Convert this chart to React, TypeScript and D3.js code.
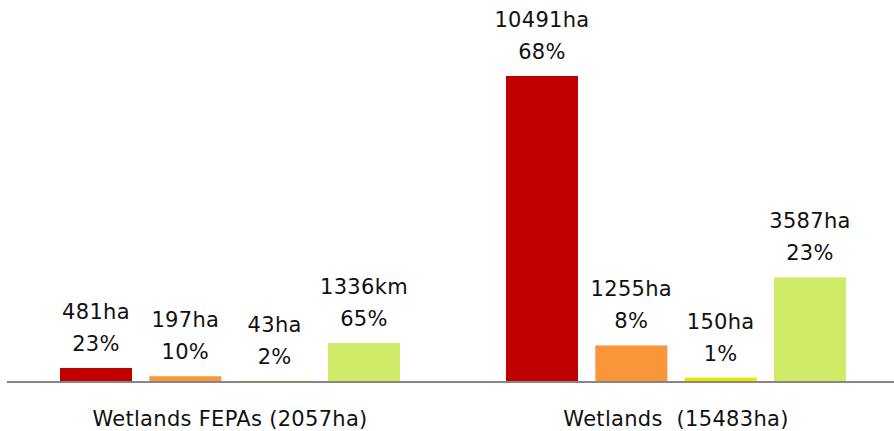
import * as d3 from "d3";

const groups = ["Wetlands FEPAs (2057ha)", "Wetlands  (15483ha)"];
const classes = ["c1", "c2", "c3", "c4"];
const colors = ["#C00000", "#F9963A", "#E6E600", "#CEEA67"];

const fepaArea = [481, 197, 43, 1336];
const fepaText = ["481ha", "197ha", "43ha", "1336km"];
const fepaPct = ["23%", "10%", "2%", "65%"];

const wetArea = [10491, 1255, 150, 3587];
const wetText = ["10491ha", "1255ha", "150ha", "3587ha"];
const wetPct = ["68%", "8%", "1%", "23%"];

const W = 894, H = 431;
const base = 382;

export default function App() {
  const series = [
    { area: fepaArea, text: fepaText, pct: fepaPct },
    { area: wetArea, text: wetText, pct: wetPct },
  ];
  const x0 = d3.scaleBand().domain(groups).range([7, 899]);
  const y = d3.scaleLinear().domain([0, 12000]).range([base, base - 350]);
  const font = "'DejaVu Sans', sans-serif";
  const ts = { fontSize: 21, fontFamily: font, fill: "#111", letterSpacing: 0.3 };

  return (
    <div style={{ position: "fixed", left: 0, top: 0, background: "#fff" }}>
      <svg width={W} height={H} style={{ display: "block" }}>
        {groups.map((g, gi) => {
          const c = x0(g)! + x0.bandwidth() / 2;
          const x1 = d3.scaleBand().domain(classes).range([c - 170, c + 170]).paddingInner(0.194);
          const s = series[gi];
          return (
            <g key={g}>
              {classes.map((k, i) => {
                const top = y(s.area[i]);
                const cx = x1(k)! + x1.bandwidth() / 2;
                return (
                  <g key={k}>
                    <rect x={x1(k)} y={top} width={x1.bandwidth()} height={base - top} fill={colors[i]} />
                    <text x={cx} y={top - 49} textAnchor="middle" {...ts}>{s.text[i]}</text>
                    <text x={cx} y={top - 17} textAnchor="middle" {...ts}>{s.pct[i]}</text>
                  </g>
                );
              })}
              <text x={c} y={426} textAnchor="middle" {...ts} style={{ whiteSpace: "pre" }}>{g}</text>
            </g>
          );
        })}
        <line x1={7} x2={W} y1={base} y2={base} stroke="#868686" strokeWidth={2} />
      </svg>
    </div>
  );
}
